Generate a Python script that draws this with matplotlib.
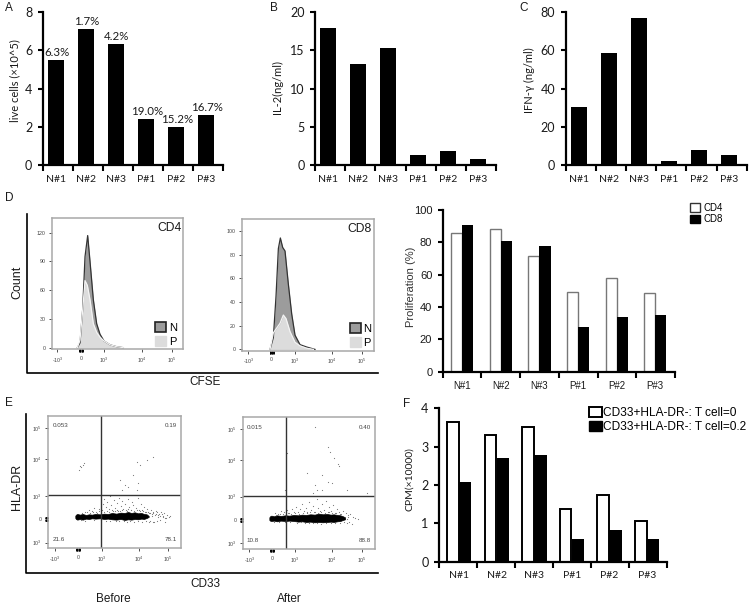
# coding:utf-8
import numpy as np
import matplotlib
matplotlib.use('Agg')
import matplotlib.pyplot as plt
from matplotlib.patches import Patch
from matplotlib.lines import Line2D

W, H = 750, 606
SANS = 'Liberation Sans'
OFFICE = 'Lato'

groups = ['N#1', 'N#2', 'N#3', 'P#1', 'P#2', 'P#3']

# bar panels
live_cells = [5.5, 7.1, 6.3, 2.4, 2.0, 2.6]
live_pct = ['6.3%', '1.7%', '4.2%', '19.0%', '15.2%', '16.7%']
il2 = [17.9, 13.2, 15.3, 1.3, 1.9, 0.8]
ifn = [30.2, 58.3, 76.6, 2.1, 8.1, 5.2]
prolif_cd4 = [85.5, 88.5, 71.7, 49.5, 58.0, 48.5]
prolif_cd8 = [90.5, 81.0, 77.7, 27.5, 34.0, 35.0]
cpm_t0 = [3.65, 3.30, 3.52, 1.38, 1.75, 1.07]
cpm_t02 = [2.07, 2.70, 2.77, 0.58, 0.83, 0.58]

# CFSE histograms: channel, count
cd4_n_x = [-11, -3, 5, 12, 20, 27, 37, 47, 57, 69, 87, 107, 127]
cd4_n_y = [0, 5, 40, 95, 117, 90, 50, 25, 14, 7, 3, 1, 0]
cd4_p_x = [-11, -3, 4, 12, 19, 27, 37, 47, 57, 69, 87, 107, 127]
cd4_p_y = [0, 8, 35, 70, 65, 50, 25, 16, 11, 7, 3, 1, 0]
cd8_n_x = [-5, 5, 13, 20, 26, 33, 40, 50, 60, 70, 85, 105, 130]
cd8_n_y = [0, 10, 45, 85, 94, 86, 83, 55, 30, 12, 4, 2, 0]
cd8_p_x = [-5, 5, 15, 25, 35, 43, 55, 70, 85, 105, 125]
cd8_p_y = [0, 14, 18, 22, 29, 26, 15, 6, 3, 1, 0]
hist_xticks_cd4 = [-71, 0, 69, 182, 272]
hist_xticks_cd8 = [-70, 0, 70, 180, 270]
count_ticks_cd4 = [0, 30, 60, 90, 120]
count_ticks_cd8 = [0, 20, 40, 60, 80, 100]

# HLA-DR / CD33 plots: dense band outline and the single events around it
before_band_x = [-8, -6, -2, 6, 14, 24, 33, 42, 52, 66, 78, 90, 102, 115, 128, 140, 150, 160, 170, 180, 190, 198, 206, 212]
before_band_lo = [3, 0, -2, 0, -2, 1, 0, 2, 1, 2, 0, 1, -1, -2, 0, -3, -1, -2, 0, -1, 1, 0, 3, 6]
before_band_hi = [10, 13, 15, 13, 15, 12, 14, 13, 15, 14, 16, 15, 18, 16, 19, 18, 21, 18, 20, 17, 18, 15, 14, 9]
before_sparse_x = [4, 9, 16, 18, 6, 126, 141, 151, 166, 178, 186, 206, 224, 181, 176, 131,
                   20, 34, 41, 48, 55, 62, 71, 74, 79, 83, 88, 92, 96, 99, 104, 108, 112, 116,
                   120, 123, 128, 131, 136, 141, 146, 149, 153, 158, 163, 166, 171, 174, 179,
                   184, 189, 194, 198, 203, 208, 213, 218, 222, 226, 231, 235, 240, 244, 249,
                   254, 258, 262, 268, 272, 277, 215, 221, 229, 236, 246, 252, 260, 265,
                   12, 26, 37, 44, 58, 64, 77, 86, 94, 101, 110, 118, 126, 133, 143, 151, 160,
                   169, 177, 186, 192, 201, 210, 217, 224, 233, 239, 247, 256,
                   8, 22, 47, 69, 84, 97, 113, 122, 137, 147, 156, 168, 181, 193, 204, 214, 226, 238]
before_sparse_y = [147, 155, 162, 167, 159, 117, 102, 97, 132, 172, 162, 177, 187, 107, 87, 87,
                   21, 28, 24, 33, 22, 30, 27, 44, 61, 36, 52, 29, 68, 41, 24, 57, 33, 47,
                   25, 64, 38, 55, 30, 46, 24, 60, 35, 27, 50, 41, 22, 33, 63, 28, 44, 25,
                   37, 22, 30, 19, 26, 8, 21, 13, 24, 5, 16, 22, 9, 18, 3, 12, 6, 9, -5, 16,
                   -8, 20, -4, 14, -10, 2,
                   18, 20, 17, 22, 19, 23, 20, 24, 22, 26, 23, 27, 25, 28, 26, 29, 27,
                   25, 28, 24, 26, 21, 22, 18, 17, 15, 12, 9, 7,
                   -4, -5, -3, -4, -6, -5, -7, -6, -7, -8, -6, -9, -7, -8, -6, -9, -8, -7]
after_band_x = [-8, -6, -2, 6, 15, 26, 40, 52, 65, 78, 90, 102, 115, 128, 140, 152, 165, 176, 185, 196, 205, 213, 219]
after_band_lo = [0, -2, -3, -2, -4, -2, -3, -2, -3, -5, -4, -6, -5, -7, -6, -7, -6, -5, -6, -4, -3, 0, 2]
after_band_hi = [8, 11, 13, 11, 14, 12, 14, 13, 15, 14, 16, 15, 17, 16, 19, 17, 18, 16, 17, 15, 14, 11, 8]
after_sparse_x = [129, 44, 39, 104, 122, 129, 136, 149, 169, 174, 187, 199, 202, 169, 179, 224,
                  284, 149, 8, 18, 27, 36, 45, 52, 60, 67, 73, 79, 84, 90, 96, 101, 106, 112,
                  117, 122, 128, 134, 139, 144, 150, 156, 161, 167, 172, 178, 183, 189, 196,
                  202, 208, 214, 221, 228, 235, 243, 250, 258, 226, 232, 240,
                  11, 23, 33, 48, 57, 70, 81, 93, 104, 115, 125, 137, 146, 159, 170, 181, 192, 205,
                  6, 20, 38, 55, 75, 88, 99, 110, 124, 135, 148, 163, 177, 190, 203, 216, 224, 229]
after_sparse_y = [280, 202, 90, 140, 80, 105, 90, 90, 220, 205, 185, 168, 162, 115, 112, 90,
                  82, 135, 21, 19, 26, 23, 30, 21, 34, 25, 40, 24, 32, 47, 27, 37, 24, 55, 30,
                  42, 24, 62, 36, 27, 48, 30, 58, 24, 40, 28, 46, 22, 33, 25, 19, 28, 21, 16,
                  18, 10, 7, 3, -10, -6, -12,
                  16, 18, 17, 20, 18, 21, 19, 22, 20, 23, 24, 22, 25, 21, 23, 20, 21, 18,
                  -5, -6, -6, -7, -8, -7, -9, -8, -10, -9, -11, -10, -9, -10, -8, -7, 4, 8]
flow_xticks_before = [-69, 0, 71, 184, 271]
flow_yticks_before = [-71, 0, 69, 179, 272]
flow_xticks_after = [-68, 0, 69, 181, 271]
flow_yticks_after = [-70, 0, 70, 180, 272]
flow_ticklabels = [r'-10$^{3}$', '0', r'10$^{3}$', r'10$^{4}$', r'10$^{5}$']
flow_ylabels = [r'10$^{3}$', '0', r'10$^{3}$', r'10$^{4}$', r'10$^{5}$']
gates_before = ['0.053', '0.19', '21.6', '78.1']
gates_after = ['0.015', '0.40', '10.8', '88.8']

plt.rcParams['mathtext.fontset'] = 'custom'
plt.rcParams['mathtext.rm'] = SANS
plt.rcParams['mathtext.default'] = 'regular'

fig = plt.figure(figsize=(W / 100, H / 100), dpi=100)


def px_axes(l, t, r, b):
    return fig.add_axes([l / W, 1 - b / H, (r - l) / W, (b - t) / H])


def px_text(x, y, s, **kw):
    kw.setdefault('ha', 'center')
    kw.setdefault('va', 'center')
    kw.setdefault('color', '#1a1a1a')
    fig.text(x / W, 1 - y / H, s, **kw)


def cat_axes(box, first, step, ymax, yticks, font, tsize, xsize):
    l, t, r, b = box
    ax = px_axes(l, t, r, b)
    x0, x1 = (l - first) / step, (r - first) / step
    ax.set_xlim(x0, x1)
    ax.set_ylim(0, ymax)
    for s in ['top', 'right']:
        ax.spines[s].set_visible(False)
    for s in ['left', 'bottom']:
        ax.spines[s].set_linewidth(1.6)
    ax.set_yticks(yticks)
    ax.set_xticks(range(6))
    ax.set_xticklabels(groups, fontsize=xsize, family=font, color='#1a1a1a')
    ax.set_xticks(np.linspace(x0, x1, 7), minor=True)
    ax.tick_params(axis='x', which='major', length=0, pad=7)
    ax.tick_params(axis='x', which='minor', length=4, width=1.5)
    ax.tick_params(axis='y', length=3.5, width=1.5, pad=4)
    for lab in ax.get_yticklabels():
        lab.set_fontsize(tsize)
        lab.set_family(font)
        lab.set_color('#1a1a1a')
    return ax


def letter(x, y, s):
    px_text(x, y, s, fontsize=8.5, family=SANS)


# A
ax = cat_axes((42.7, 11.7, 223, 165.3), 56, 30, 8, [0, 2, 4, 6, 8], OFFICE, 9, 7.5)
ax.bar(range(6), live_cells, 0.54, color='black')
for i, v in enumerate(live_cells):
    ax.annotate(live_pct[i], (i, v), xytext=(0.5, 1.5), textcoords='offset points',
                ha='center', va='bottom', fontsize=8.3, family=OFFICE, color='#1a1a1a')
px_text(15, 81, 'live cells (×10^5)', rotation=90, fontsize=8, family=OFFICE)

# B
ax = cat_axes((315, 11.7, 496, 165.3), 328, 30, 20, [0, 5, 10, 15, 20], OFFICE, 9, 7.5)
ax.bar(range(6), il2, 0.54, color='black')
px_text(277, 87, 'IL-2(ng/ml)', rotation=90, fontsize=8, family=OFFICE)

# C
ax = cat_axes((565.7, 11.7, 746.7, 165.3), 579, 30, 80, [0, 20, 40, 60, 80], OFFICE, 9, 7.5)
ax.bar(range(6), ifn, 0.54, color='black')
px_text(529, 80, 'IFN-γ (ng/ml)', rotation=90, fontsize=8, family=OFFICE)

# D bars
ax = cat_axes((442.7, 210, 675, 371.7), 462.3, 38.6, 100, [0, 20, 40, 60, 80, 100], SANS, 8, 7)
ax.bar(np.arange(6) - 0.145, prolif_cd4, 0.29, color='white', edgecolor='#777777', linewidth=1)
ax.bar(np.arange(6) + 0.145, prolif_cd8, 0.29, color='black')
px_text(411, 287, 'Proliferation (%)', rotation=90, fontsize=8, family=SANS, color='#333333')
fig.legend(handles=[Patch(facecolor='white', edgecolor='#333333', label='CD4'),
                    Patch(facecolor='black', edgecolor='black', label='CD8')],
           loc='upper left', bbox_to_anchor=(690 / W, 1 - 202.5 / H), frameon=False,
           prop={'family': SANS, 'size': 7}, handlelength=1, handleheight=1,
           handletextpad=0.4, labelspacing=0.2, borderpad=0, borderaxespad=0)

# F bars
ax = cat_axes((439, 408.3, 667.3, 561.7), 459, 37.6, 4, [0, 1, 2, 3, 4], OFFICE, 9, 7.5)
ax.bar(np.arange(6) - 0.165, cpm_t0, 0.31, color='white', edgecolor='black', linewidth=1.4)
ax.bar(np.arange(6) + 0.165, cpm_t02, 0.33, color='black')
px_text(410, 479, 'CPM(×10000)', rotation=90, fontsize=7.5, family=OFFICE)
fig.legend(handles=[Patch(facecolor='white', edgecolor='black', linewidth=1.4,
                          label='CD33+HLA-DR-: T cell=0'),
                    Patch(facecolor='black', edgecolor='black', label='CD33+HLA-DR-: T cell=0.2')],
           loc='upper left', bbox_to_anchor=(589 / W, 1 - 407 / H), frameon=False,
           prop={'family': SANS, 'size': 8.6}, handlelength=1.05, handleheight=0.85,
           handletextpad=0.12, labelspacing=0.2, borderpad=0, borderaxespad=0)


def flow_axes(box, xlim, ylim, xticks, yticks, xlabels, ylabels):
    ax = px_axes(*box)
    ax.set_xlim(*xlim)
    ax.set_ylim(*ylim)
    for s in ax.spines.values():
        s.set_color('#a8a8a8')
        s.set_linewidth(1.1)
    ax.set_xticks(xticks)
    ax.set_xticklabels(xlabels, fontsize=3.8, color='#444444', family=SANS)
    ax.set_yticks(yticks)
    ax.set_yticklabels(ylabels, fontsize=3.8, color='#444444', family=SANS)
    ax.tick_params(length=2, width=0.6, pad=2.5, color='#333333')
    # the black clump of minor ticks around zero
    ax.set_xticks(np.arange(-6, 7, 2), minor=True)
    ax.tick_params(axis='x', which='minor', length=2, width=0.7, color='black')
    return ax


def hist_panel(box, xlim, ylim, xticks, yticks, n_x, n_y, p_x, p_y, name, leg_right):
    ax = flow_axes(box, xlim, ylim, xticks, yticks, flow_ticklabels, [str(t) for t in yticks])
    ax.fill_between(n_x, n_y, 0, color='#9c9c9c', linewidth=0)
    ax.plot(n_x, n_y, color='#333333', lw=0.9)
    ax.fill_between(p_x, p_y, 0, color='#dcdcdc', linewidth=0)
    ax.plot(p_x, p_y, color='#f4f4f4', lw=0.9)
    ax.text(0.985, 0.97, name, transform=ax.transAxes, ha='right', va='top',
            fontsize=8.7, family=SANS, color='#1a1a1a')
    ax.legend(handles=[Patch(facecolor='#9c9c9c', edgecolor='#222222', linewidth=1.2, label='N'),
                       Patch(facecolor='#dcdcdc', edgecolor='#dcdcdc', label='P')],
              loc='lower right', bbox_to_anchor=(leg_right, 0.02), frameon=False,
              prop={'family': SANS, 'size': 8}, handlelength=1, handleheight=1,
              handletextpad=0.2, labelspacing=0.3, borderpad=0, borderaxespad=0)


# D histograms
hist_panel((51.7, 218.3, 183.3, 349.3), (-88, 307), (-1.7, 135), hist_xticks_cd4,
           count_ticks_cd4, cd4_n_x, cd4_n_y, cd4_p_x, cd4_p_y, 'CD4', 0.95)
hist_panel((241.7, 219, 374, 350.7), (-90, 307), (-1.1, 110), hist_xticks_cd8,
           count_ticks_cd8, cd8_n_x, cd8_n_y, cd8_p_x, cd8_p_y, 'CD8', 0.98)


def dot_panel(box, xlim, ylim, xticks, yticks, band, sparse, cross, gates):
    ax = flow_axes(box, xlim, ylim, xticks, yticks, flow_ticklabels, flow_ylabels)
    ax.set_yticks(np.arange(-6, 7, 2), minor=True)
    ax.tick_params(axis='y', which='minor', length=2, width=0.7, color='black')
    ax.fill_between(band[0], band[1], band[2], color='black', linewidth=0.5)
    ax.scatter(sparse[0], sparse[1], s=0.7, color='#777777', linewidths=0)
    ax.axvline(cross[0], color='#333333', lw=1)
    ax.axhline(cross[1], color='#333333', lw=1)
    spots = [(0.03, 0.925, 'left'), (0.97, 0.925, 'right'), (0.03, 0.07, 'left'), (0.97, 0.07, 'right')]
    for (x, y, ha), g in zip(spots, gates):
        ax.text(x, y, g, transform=ax.transAxes, ha=ha, va='center', fontsize=4.5,
                family=SANS, color='#444444')


# E
dot_panel((48.3, 416, 180.7, 548.3), (-89, 308), (-88, 309), flow_xticks_before, flow_yticks_before,
          (before_band_x, before_band_lo, before_band_hi), (before_sparse_x, before_sparse_y),
          (68, 72), gates_before)
dot_panel((242.7, 417.3, 375, 549.3), (-88, 309), (-88, 308), flow_xticks_after, flow_yticks_after,
          (after_band_x, after_band_lo, after_band_hi), (after_sparse_x, after_sparse_y),
          (41, 72), gates_after)

# L shaped frames round the flow plots
frame = fig.add_axes([0, 0, 1, 1], facecolor='none')
frame.set_xlim(0, W)
frame.set_ylim(H, 0)
frame.axis('off')
frame.add_line(Line2D([27, 27, 377.7], [214, 372.7, 372.7], color='black', lw=1.2))
frame.add_line(Line2D([25.7, 25.7, 377.7], [414, 573, 573], color='black', lw=1.2))

px_text(17, 282, 'Count', rotation=90, fontsize=9, family=SANS)
px_text(205, 382, 'CFSE', fontsize=8.5, family=SANS)
px_text(17, 487, 'HLA-DR', rotation=90, fontsize=9, family=SANS)
px_text(205, 584, 'CD33', fontsize=8.5, family=SANS)
px_text(113, 599, 'Before', fontsize=8.5, family=SANS)
px_text(289, 599, 'After', fontsize=8.5, family=SANS)

letter(9, 8, 'A')
letter(274, 8, 'B')
letter(524, 8, 'C')
letter(9, 198, 'D')
letter(9, 403, 'E')
letter(407, 404, 'F')

fig.savefig('out.png', dpi=100)
